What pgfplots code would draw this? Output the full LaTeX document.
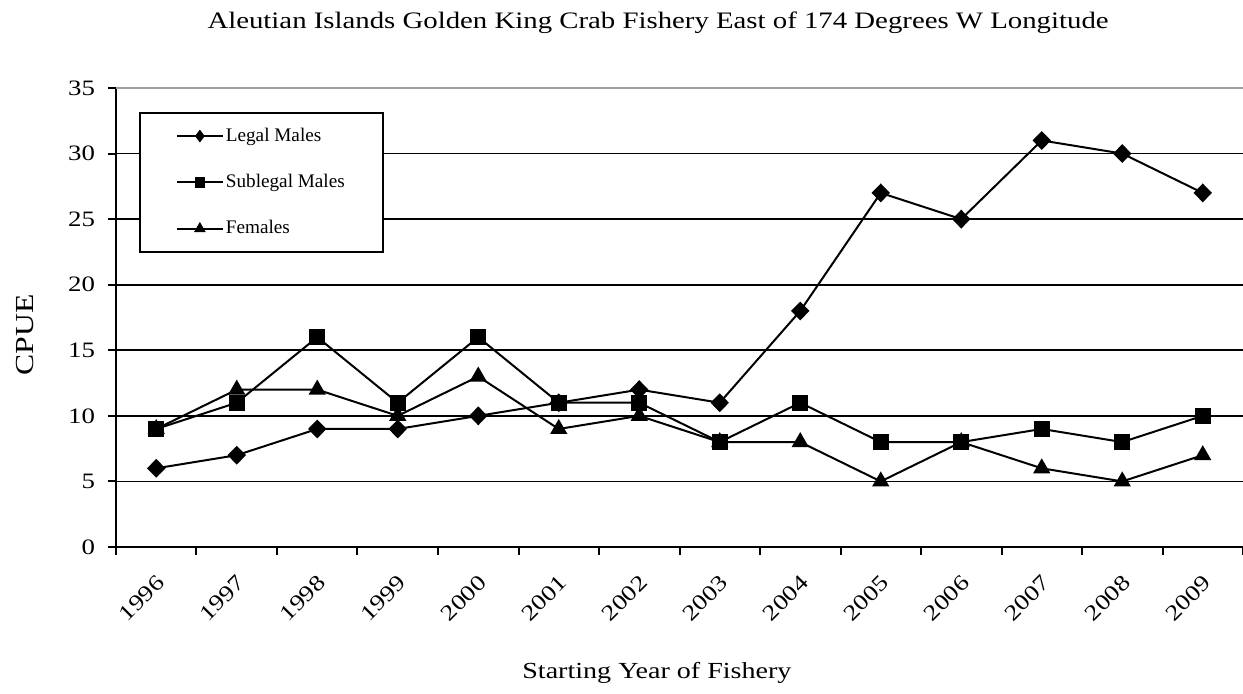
\documentclass[border=0pt]{standalone}
\usepackage{fontspec}
\setmainfont{Liberation Serif}[FakeStretch=1.22]
\newfontfamily\legfont{Liberation Serif}
\usepackage{pgfplots}
\pgfplotsset{compat=1.18}

\pgfplotstableread{
yr legal sublegal females
0  6  9  9
1  7  11 12
2  9  16 12
3  9  11 10
4  10 16 13
5  11 11 9
6  12 11 10
7  11 8  8
8  18 11 8
9  27 8  5
10 25 8  8
11 31 9  6
12 30 8  5
13 27 10 7
}\cpue

\begin{document}
\begin{tikzpicture}
\begin{axis}[
    name=ax,
    at={(0,0)}, anchor=south west,
    scale only axis,
    width=563.5pt, height=229.5pt,
    xmin=-0.5, xmax=13.5,
    ymin=0, ymax=35,
    axis lines*=left,
    axis line style={line width=1pt, black},
    xtick={0,...,13},
    xticklabels={1996,1997,1998,1999,2000,2001,2002,2003,2004,2005,2006,2007,2008,2009},
    major x tick style={draw=none},
    minor xtick={-0.5,0.5,...,13.5},
    minor x tick style={line width=1pt, black},
    minor tick length=4pt,
    tick align=outside,
    ytick={0,5,...,30},
    extra y ticks={35},
    extra y tick style={grid style={gray!75, line width=1.3pt}},
    major tick length=4pt,
    y tick style={line width=1pt, black},
    ymajorgrids,
    grid style={black, line width=0.9pt},
    /pgf/number format/assume math mode=true,
    tick label style={font=\fontsize{11}{13}\selectfont},
    xticklabel style={rotate=45, anchor=east, yshift=-10pt, xshift=-3.5pt},
    yticklabel style={xshift=-3pt},
    title={Aleutian Islands Golden King Crab Fishery East of 174 Degrees W Longitude},
    title style={at={(0.481,1.1155)}, anchor=center, font=\fontsize{11.8}{14}\selectfont},
    xlabel={Starting Year of Fishery},
    xlabel style={at={(0.48,-0.2745)}, anchor=center, font=\fontsize{11.5}{13}\selectfont},
    ylabel={CPUE},
    ylabel style={at={(-0.0807,0.462)}, anchor=center, font=\fontsize{13}{15}\selectfont},
    legend style={at={(0.0204,0.9477)}, anchor=north west, draw=black, line width=0.9pt,
        inner xsep=18pt, inner ysep=6.5pt, row sep=13pt,
        font=\legfont\fontsize{9.6}{11}\selectfont,
        nodes={inner sep=1pt}},
    legend cell align=left,
    legend image code/.code={
        \draw[mark repeat=2, mark phase=2, mark options={scale=0.6}]
        plot coordinates {(0pt,0pt) (11.5pt,0pt) (23pt,0pt)};
    },
    every axis plot/.append style={black, line width=1pt},
]
\addplot[mark=diamond*, mark size=4pt, mark options={xscale=1.3, solid}] table[x=yr, y=legal] {\cpue};
\addlegendentry{Legal Males}
\addplot[mark=square*, mark size=3.6pt, mark options={solid}] table[x=yr, y=sublegal] {\cpue};
\addlegendentry{Sublegal Males}
\addplot[mark=triangle*, mark size=4pt, mark options={solid}] table[x=yr, y=females] {\cpue};
\addlegendentry{Females}
\end{axis}
\pgfresetboundingbox
\path ([shift={(-58pt,-73.5pt)}]ax.south west) rectangle ([shift={(0pt,44pt)}]ax.north east);
\end{tikzpicture}
\end{document}
